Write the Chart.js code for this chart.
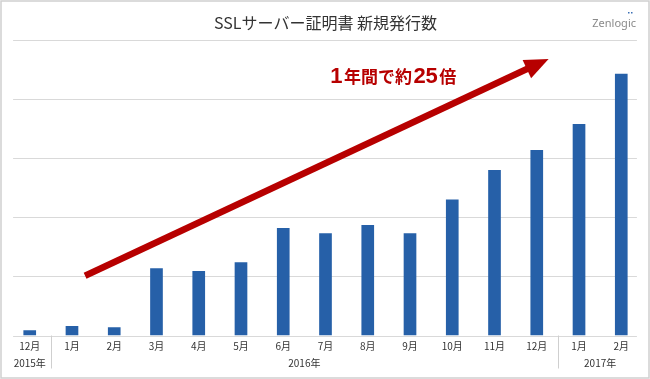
<!DOCTYPE html>
<html>
<head>
<meta charset="utf-8">
<script src="https://cdn.jsdelivr.net/npm/chart.js@4/dist/chart.umd.min.js"></script>
<style>
  html, body { margin: 0; padding: 0; background: #fff; }
  #chart_box { width: 650px; height: 379px; }
</style>
</head>
<body>
<div id="chart_box"><canvas id="ssl_chart" width="650" height="379"></canvas></div>
<script>
const month_labels = ['12月', '1月', '2月', '3月', '4月', '5月', '6月', '7月', '8月', '9月', '10月', '11月', '12月', '1月', '2月'];
const issued_counts = [0.09, 0.16, 0.14, 1.14, 1.09, 1.24, 1.82, 1.73, 1.87, 1.73, 2.30, 2.80, 3.14, 3.58, 4.43];

const year_labels = ['2015年', '2016年', '2017年'];
const year_first = [0, 1, 13];
const year_last = [0, 12, 14];

// arrow from / to, in (category index, value)
const arrow_from = [1.31, 1.01];
const arrow_to = [12.28, 4.68];
const growth_anchor = [7.11, 4.27];

const jp_font = '"Noto Sans CJK JP", "Noto Sans", sans-serif';
const red = '#b70000';

const decorations = {
    id: 'decorations',
    beforeDraw(chart) {
        const ctx = chart.ctx;
        ctx.save();
        ctx.fillStyle = '#fff';
        ctx.fillRect(0, 0, chart.width, chart.height);
        ctx.restore();
    },
    beforeDatasetsDraw(chart) {
        const ctx = chart.ctx;
        const area = chart.chartArea;
        const y = chart.scales.y;
        ctx.save();
        ctx.strokeStyle = '#d9d9d9';
        ctx.lineWidth = 1.2;
        for (let v = y.min; v <= y.max; v++) {
            const py = Math.round(y.getPixelForValue(v)) + 0.5;
            ctx.beginPath();
            ctx.moveTo(area.left + 4.5, py);
            ctx.lineTo(area.right - 5.5, py);
            ctx.stroke();
        }
        ctx.restore();
    },
    afterDatasetsDraw(chart) {
        const ctx = chart.ctx;
        const x = chart.scales.x;
        const y = chart.scales.y;
        const base = y.getPixelForValue(0);
        ctx.save();

        // separators between years
        ctx.strokeStyle = '#cfcfcf';
        ctx.lineWidth = 1;
        for (let i = 1; i < year_first.length; i++) {
            const px = Math.round((x.getPixelForValue(year_first[i] - 1) + x.getPixelForValue(year_first[i])) / 2) + 0.5;
            ctx.beginPath();
            ctx.moveTo(px, base);
            ctx.lineTo(px, base + 33);
            ctx.stroke();
        }

        // year labels
        ctx.fillStyle = '#333';
        ctx.font = '10px ' + jp_font;
        ctx.textAlign = 'center';
        ctx.textBaseline = 'middle';
        for (let i = 0; i < year_labels.length; i++) {
            const px = (x.getPixelForValue(year_first[i]) + x.getPixelForValue(year_last[i])) / 2;
            ctx.fillText(year_labels[i], px, base + 28);
        }

        // arrow
        const x0 = x.getPixelForValue(arrow_from[0]), y0 = y.getPixelForValue(arrow_from[1]);
        const x1 = x.getPixelForValue(arrow_to[0]), y1 = y.getPixelForValue(arrow_to[1]);
        const len = Math.hypot(x1 - x0, y1 - y0);
        const ux = (x1 - x0) / len, uy = (y1 - y0) / len;
        const head_len = 24, head_half = 10;
        const bx = x1 - ux * head_len, by = y1 - uy * head_len;
        ctx.strokeStyle = red;
        ctx.fillStyle = red;
        ctx.lineWidth = 6.6;
        ctx.lineCap = 'butt';
        ctx.beginPath();
        ctx.moveTo(x0, y0);
        ctx.lineTo(bx + ux * 3, by + uy * 3);
        ctx.stroke();
        ctx.beginPath();
        ctx.moveTo(x1, y1);
        ctx.lineTo(bx - uy * head_half, by + ux * head_half);
        ctx.lineTo(bx + uy * head_half, by - ux * head_half);
        ctx.closePath();
        ctx.fill();

        // growth text
        const parts = [
            ['1', 'bold 22px "Liberation Sans", Arial, sans-serif'],
            ['年間で約', 'bold 17px ' + jp_font],
            ['25', 'bold 22px "Liberation Sans", Arial, sans-serif'],
            ['倍', 'bold 17px ' + jp_font]
        ];
        let tx = x.getPixelForValue(growth_anchor[0]);
        const ty = y.getPixelForValue(growth_anchor[1]);
        ctx.textAlign = 'left';
        ctx.textBaseline = 'alphabetic';
        parts.forEach(([txt, font]) => {
            ctx.font = font;
            ctx.fillText(txt, tx, ty);
            tx += ctx.measureText(txt).width + 1.5;
        });

        // logo text
        ctx.fillStyle = '#8a8a8a';
        ctx.font = '11px "Noto Sans", sans-serif';
        ctx.textAlign = 'right';
        ctx.textBaseline = 'middle';
        ctx.fillText('Zenlogic', 636, 24);
        ctx.fillStyle = '#3a6fb5';
        ctx.fillRect(628, 12, 1.5, 1.5);
        ctx.fillRect(631, 12, 1.5, 1.5);

        // frame
        ctx.strokeStyle = '#cfcfcf';
        ctx.lineWidth = 1.5;
        ctx.strokeRect(1, 1, chart.width - 2, chart.height - 2);
        ctx.restore();
    }
};

new Chart(document.getElementById('ssl_chart'), {
    type: 'bar',
    data: {
        labels: month_labels,
        datasets: [{
            data: issued_counts,
            backgroundColor: '#2660a8',
            borderWidth: 0,
            barPercentage: 0.6,
            categoryPercentage: 0.5
        }]
    },
    options: {
        responsive: false,
        animation: false,
        layout: { padding: { top: 0, left: 8.6, right: 7.6, bottom: 0 } },
        plugins: {
            legend: { display: false },
            tooltip: { enabled: false },
            title: {
                display: true,
                text: 'SSLサーバー証明書 新規発行数',
                color: '#333',
                font: { family: jp_font, size: 16, weight: 'normal', lineHeight: 1.2 },
                padding: { top: 13.4, bottom: 7.4 }
            }
        },
        scales: {
            x: {
                grid: { display: false, drawTicks: false },
                border: { display: false },
                ticks: {
                    color: '#333',
                    font: { family: jp_font, size: 10 },
                    padding: 5,
                    maxRotation: 0,
                    autoSkip: false
                },
                afterFit: (scale) => { scale.height = 43.5; }
            },
            y: {
                display: false,
                min: 0,
                max: 5,
                ticks: { stepSize: 1 }
            }
        }
    },
    plugins: [decorations]
});
</script>
</body>
</html>
